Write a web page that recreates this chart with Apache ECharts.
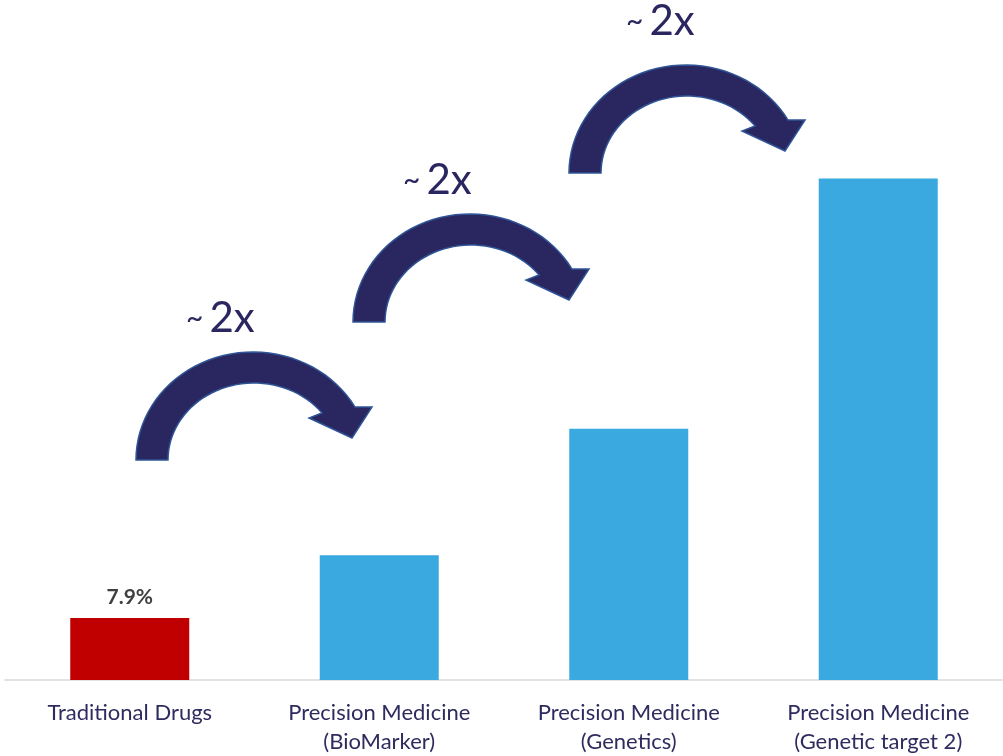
<!DOCTYPE html>
<html>
<head>
<meta charset="utf-8">
<script src="https://cdn.jsdelivr.net/npm/echarts@6/dist/echarts.min.js"></script>
<style>html,body{margin:0;padding:0;background:#fff}#c{width:1003px;height:756px}</style>
</head>
<body>
<div id="c"></div>
<script>
// ---- data ----
const categories = ['Traditional Drugs', 'Precision Medicine\n(BioMarker)', 'Precision Medicine\n(Genetics)', 'Precision Medicine\n(Genetic target 2)'];
const values = [7.9, 15.9, 32.0, 63.9];
const valueLabels = ['7.9%', '', '', ''];
const stepLabels = ['2x', '2x', '2x'];

// ---- styles / annotation placement ----
const FONT = 'Lato, "Open Sans", sans-serif';
const NAVY = '#2a2660';
const barColors = ['#c00000', '#39a9e0', '#39a9e0', '#39a9e0'];
const arrowAnchors = [[136, 460], [353, 322], [569, 173]]; // foot-left x, bottom y (px)
const stepLabelPos = [[186, 318], [403, 180], [626, 21]];

const chart = echarts.init(document.getElementById('c'), null, {renderer: 'canvas'});

function arrowPoints(x0, y0) {
  const pts = [];
  const N = 40;
  const ocx = x0 + 117, orx = 117, ory = 108;
  const oEnd = Math.acos(102 / 117);
  for (let i = 0; i <= N; i++) {
    const t = Math.PI + (oEnd - Math.PI) * i / N;
    pts.push([ocx + orx * Math.cos(t), y0 - ory * Math.sin(t)]);
  }
  pts.push([x0 + 236, y0 - 53]);
  pts.push([x0 + 216, y0 - 22]);
  pts.push([x0 + 173, y0 - 42]);
  const icx = x0 + 118, irx = 86, iry = 77;
  const iStart = Math.acos(68 / 86);
  for (let i = 0; i <= N; i++) {
    const t = iStart + (Math.PI - iStart) * i / N;
    pts.push([icx + irx * Math.cos(t), y0 - iry * Math.sin(t)]);
  }
  return pts;
}

const graphics = [];
arrowAnchors.forEach(a => {
  graphics.push({
    type: 'polygon',
    shape: {points: arrowPoints(a[0], a[1])},
    style: {fill: NAVY, stroke: '#2f5597', lineWidth: 1.5},
    z: 10
  });
});
stepLabelPos.forEach((p, i) => {
  graphics.push({
    type: 'text',
    x: p[0], y: p[1],
    style: {
      text: '{t|~}{n|' + stepLabels[i] + '}',
      align: 'left', verticalAlign: 'middle',
      rich: {
        t: {fontSize: 30, fontFamily: FONT, fill: NAVY, padding: [0, 6, 0, 0], verticalAlign: 'middle'},
        n: {fontSize: 42, fontFamily: FONT, fill: NAVY, verticalAlign: 'middle'}
      }
    },
    z: 10
  });
});

chart.setOption({
  animation: false,
  backgroundColor: '#ffffff',
  grid: {left: 5, width: 1000, top: 52, bottom: 76, containLabel: false},
  xAxis: {
    type: 'category',
    data: categories,
    axisLine: {show: true, lineStyle: {color: '#d9d9d9', width: 1.5}},
    axisTick: {show: false},
    axisLabel: {
      color: '#2e2b5f', fontSize: 22, fontFamily: FONT, lineHeight: 29, margin: 18, interval: 0
    }
  },
  yAxis: {type: 'value', min: 0, max: 80, show: false, splitLine: {show: false}},
  series: [{
    type: 'bar',
    data: values.map((v, i) => ({
      value: v,
      itemStyle: {color: barColors[i]},
      label: {show: valueLabels[i] !== '', formatter: valueLabels[i]}
    })),
    barWidth: 119,
    label: {
      position: 'top', distance: 10, color: '#404040', fontWeight: 'bold', fontSize: 21, fontFamily: FONT
    }
  }],
  graphic: graphics
});
</script>
</body>
</html>
